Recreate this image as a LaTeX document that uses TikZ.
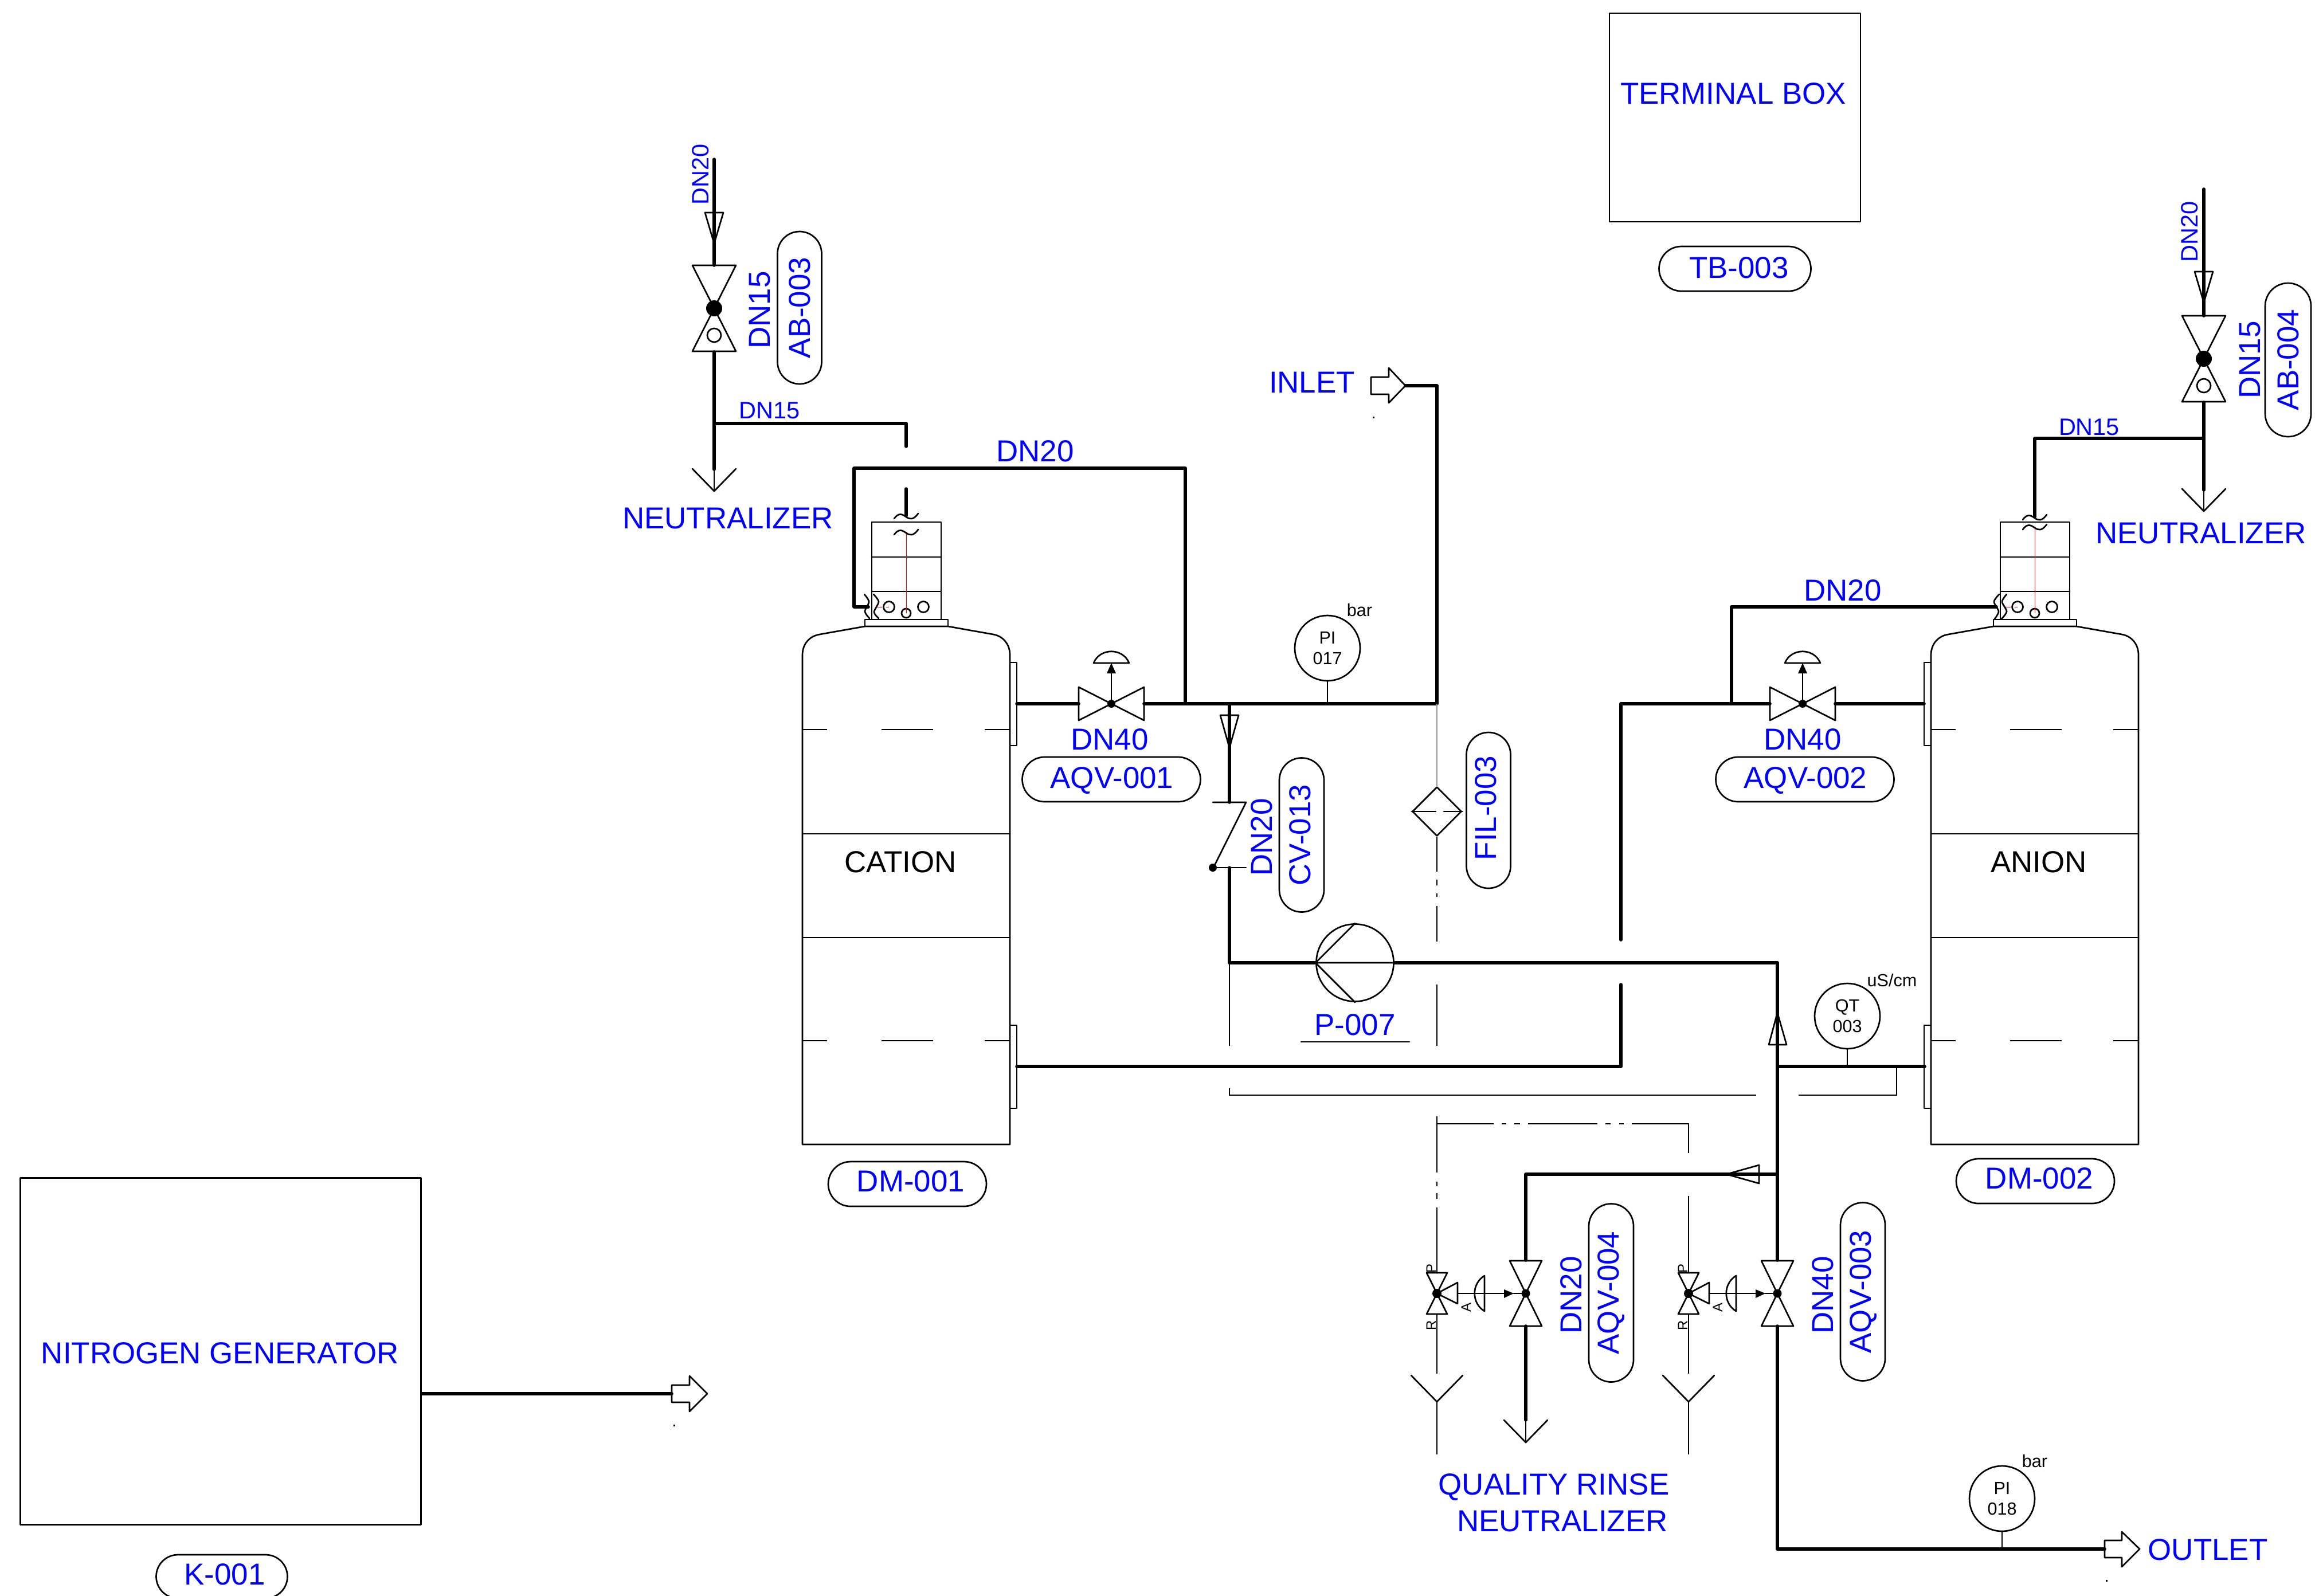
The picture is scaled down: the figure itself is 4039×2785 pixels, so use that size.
\documentclass[tikz,border=0pt]{standalone}
\usepackage{fontspec}
\setmainfont{Liberation Sans}
\usetikzlibrary{shapes.misc,shapes.geometric}
\definecolor{tagblue}{RGB}{0,0,255}
\newcommand\fbig{\fontsize{15.05pt}{17pt}\selectfont}
\newcommand\fsml{\fontsize{11.8pt}{13pt}\selectfont}
\newcommand\finst{\fontsize{8.7pt}{10.2pt}\selectfont}
\newcommand\ftiny{\fontsize{6.8pt}{8pt}\selectfont}
\tikzset{
  pipe/.style={line width=0.56mm,line cap=round,line join=round},
  symb/.style={line width=0.27mm,line cap=round,line join=round},
  thinl/.style={line width=0.18mm},
  faint/.style={line width=0.12mm,black!40},
  redl/.style={line width=0.1mm,red},
  tagt/.style={text=tagblue,font=\fbig,inner sep=0pt},
  tags/.style={text=tagblue,font=\fsml,inner sep=0pt},
  blackt/.style={text=black,font=\fbig,inner sep=0pt},
  unitt/.style={text=black,font=\finst,inner sep=0pt},
  pill/.style={draw,symb,rounded rectangle,inner sep=0pt,text=tagblue,font=\fbig},
  inst/.style={draw,symb,circle,minimum size=11.4mm,inner sep=0pt,align=center,font=\finst},
  box/.style={draw,symb,rectangle,inner sep=0pt}
}
% bow-tie valve, vertical: centre, half-height, half-width
\newcommand\bowV[4]{\draw[symb] ({#1-#4},{#2-#3}) -- ({#1+#4},{#2-#3}) -- ({#1-#4},{#2+#3}) -- ({#1+#4},{#2+#3}) -- cycle;}
\newcommand\bowH[4]{\draw[symb] ({#1-#3},{#2-#4}) -- ({#1-#3},{#2+#4}) -- ({#1+#3},{#2-#4}) -- ({#1+#3},{#2+#4}) -- cycle;}
% actuated horizontal-line valve with dome on top
\newcommand\aqvH[2]{%
  \bowH{#1}{#2}{57}{29}
  \fill ({#1},{#2}) circle[radius=7];
  \draw[symb] ({#1},{#2}) -- ({#1},{#2-53});
  \fill ({#1-8},{#2-53}) -- ({#1+8},{#2-53}) -- ({#1},{#2-71}) -- cycle;
  \draw[symb] ({#1-31},{#2-71}) .. controls ({#1-20},{#2-98}) and ({#1+20},{#2-98}) .. ({#1+31},{#2-71}) -- cycle;}
% vertical-line pneumatic valve group
\newcommand\aqvV[2]{%
  \bowV{#2}{2257}{57}{28}
  \fill ({#2},2257) circle[radius=7.5];
  \bowV{#1}{2257}{36}{18}
  \fill (#1,2257) circle[radius=8];
  \draw[symb] (#1,2257) -- ({#1+36},2238) -- ({#1+36},2275) -- cycle;
  \draw[symb] ({#1+36},2257) -- ({#1+117},2257);
  \fill ({#1+117},2250) -- ({#1+117},2265) -- ({#1+134},2257) -- cycle;
  \draw[symb] ({#1+134},2257) -- (#2,2257);
  \draw[symb] ({#1+83},2226) .. controls ({#1+60},2240) and ({#1+60},2274) .. ({#1+83},2288) -- cycle;
  \node[text=black,font=\ftiny,inner sep=0pt,rotate=90] at ({#1-10},2213) {P};
  \node[text=black,font=\ftiny,inner sep=0pt,rotate=90] at ({#1-10},2313) {R};
  \node[text=black,font=\ftiny,inner sep=0pt,rotate=90] at ({#1+51},2281) {A};
  \draw[symb] (#1,2190) -- (#1,2221);
  \draw[thinl] (#1,2293) -- (#1,2397);
  \draw[symb] ({#1-45},2400) -- (#1,2446) -- ({#1+45},2400);
  \draw[symb] (#1,2446) -- (#1,2537);}
% tank with top flange and positioner box
\newcommand\hsq[2]{\draw[symb] ({#1-21},{#2+5}) .. controls ({#1-13},{#2-6}) and ({#1-7},{#2-3}) .. ({#1},{#2+2}) .. controls ({#1+7},{#2+7}) and ({#1+13},{#2+7}) .. ({#1+21},{#2-4});}
\newcommand\tank[2]{%
  \begin{scope}[shift={(#1,0)}]
    \draw[symb] (0,1997) -- (0,1143) .. controls (0,1124) and (12,1110) .. (30,1107) -- (109,1093) -- (254,1093) -- (333,1107) .. controls (350,1110) and (362,1124) .. (362,1143) -- (362,1997) -- cycle;
    \draw[symb] (109,1081) rectangle (254,1093);
    \draw[symb] (121,911) rectangle (242,1081);
    \draw[symb] (121,972) -- (242,972) (121,1032) -- (242,1032);
    \draw[symb] (0,1455) -- (362,1455) (0,1636) -- (362,1636);
    \foreach \yy in {1273,1816} {\draw[thinl] (0,\yy) -- (43,\yy) (138,\yy) -- (228,\yy) (318,\yy) -- (362,\yy);}
    \draw[symb] (151,1059) circle[radius=9.5] (211,1059) circle[radius=9.5] (181,1070) circle[radius=8];
    \draw[redl] (181,#2) -- (181,1070);
  \end{scope}}
\begin{document}
\begin{tikzpicture}[x=0.1mm,y=-0.1mm]
\useasboundingbox (0,0) rectangle (4039,2785);

%% Tanks
\tank{1400}{928}
\tank{3369}{919}
\draw[symb] (1762,1156) rectangle (1774,1301) (1762,1789) rectangle (1774,1934);
\draw[symb] (3357,1156) rectangle (3369,1301) (3357,1789) rectangle (3369,1934);
\node[blackt] (cation) at (1571,1504) {CATION};
\node[blackt] (anion) at (3557,1504) {ANION};
\draw[redl,densely dashed] (1528,1059) -- (1551,1059);
\draw[redl,densely dashed] (3497,1059) -- (3520,1059);
\hsq{1581}{900}\hsq{1581}{928}
\hsq{3550}{902}\hsq{3550}{919}
\draw[symb] plot[smooth] coordinates {(1508,1037)(1516,1050)(1509,1067)(1517,1079)};
\draw[symb] plot[smooth] coordinates {(1524,1037)(1533,1050)(1525,1068)(1533,1079)};
\draw[symb] plot[smooth] coordinates {(3488,1037)(3479,1050)(3487,1067)(3480,1080)};
\draw[symb] plot[smooth] coordinates {(3501,1037)(3493,1050)(3501,1067)(3492,1080)};
\node[pill,minimum width=27.6mm,minimum height=7.8mm] (dm1) at (1583,2066) {};
\node[tagt] (dm1t) at (1589,2061) {DM-001};
\node[pill,minimum width=27.6mm,minimum height=7.8mm] (dm2) at (3551,2061) {};
\node[tagt] (dm2t) at (3558,2056) {DM-002};

%% Terminal box and nitrogen generator
\node[box,minimum width=43.8mm,minimum height=36.4mm] (tb) at (3027,205) {};
\node[tagt] (tbt) at (3024,163) {TERMINAL BOX};
\node[pill,minimum width=26.5mm,minimum height=7.8mm] (tb3) at (3027,469) {};
\node[tagt] (tb3t) at (3034,467) {TB-003};
\node[box,minimum width=69.9mm,minimum height=60.5mm] (k1) at (385,2358) {};
\node[tagt] (k1n) at (384,2361) {NITROGEN GENERATOR};
\node[pill,minimum width=22.9mm,minimum height=7.6mm] (k1t) at (387,2751) {};
\node[tagt] (k1l) at (392,2747) {K-001};
\coordinate (narrow) at (1172,2432);
\draw[pipe] (k1.east |- narrow) -- (narrow);
\draw[symb] (1172,2417) -- (1203,2417) -- (1203,2401) -- (1234,2432) -- (1203,2463) -- (1203,2447) -- (1172,2447) -- cycle;
\fill (1175,2486) rectangle (1178,2489);

%% AB-003 group
\coordinate (ab3top) at (1246,278);
\coordinate (ab3t) at (1246,463);
\coordinate (ab3b) at (1246,614);
\coordinate (ab3j) at (1246,739);
\coordinate (ab3e) at (1246,819);
\coordinate (ab3tip) at (1246,857);
\draw[pipe] (ab3top) -- (ab3t);
\draw[symb] (1230,371) -- (1262,371) -- (1246,425) -- cycle;
\bowV{1246}{538}{75}{38}
\fill (1246,538) circle[radius=14];
\draw[symb] (1246,585) circle[radius=12];
\draw[pipe] (ab3b) -- (ab3e);
\draw[symb] (ab3e) -- (ab3tip);
\draw[symb] (1208,818) -- (ab3tip) -- (1284,818);
\coordinate (stubU) at (1581,739);
\coordinate (stubE) at (1581,779);
\draw[pipe] (ab3j) -- (stubU) -- (stubE);
\coordinate (stubL) at (1581,853);
\coordinate (stubB) at (1581,900);
\draw[pipe] (stubL) -- (stubB);
\node[tags,rotate=90] (t1) at (1222,304) {DN20};
\node[tagt,rotate=90] (t2) at (1326,541) {DN15};
\node[pill,rotate=90,minimum width=26.6mm,minimum height=7.7mm] (ab3) at (1395,537) {AB-003};
\node[tags] (t3) at (1343,716) {DN15};
\node[tagt] (t4) at (1270,905) {NEUTRALIZER};

%% AB-004 group
\coordinate (ab4top) at (3845,330);
\coordinate (ab4t) at (3845,551);
\coordinate (ab4b) at (3845,702);
\coordinate (ab4j) at (3845,765);
\coordinate (ab4e) at (3845,855);
\coordinate (ab4tip) at (3845,892);
\draw[pipe] (ab4top) -- (ab4t);
\draw[symb] (3829,474) -- (3861,474) -- (3845,528) -- cycle;
\bowV{3845}{626}{75}{38}
\fill (3845,626) circle[radius=14];
\draw[symb] (3845,673) circle[radius=12];
\draw[pipe] (ab4b) -- (ab4e);
\draw[symb] (ab4e) -- (ab4tip);
\draw[symb] (3807,853) -- (ab4tip) -- (3883,853);
\coordinate (stubR) at (3550,765);
\coordinate (stubS) at (3550,902);
\draw[pipe] (ab4j) -- (stubR) -- (stubS);
\node[tags,rotate=90] (t5) at (3820,404) {DN20};
\node[tagt,rotate=90] (t6) at (3926,628) {DN15};
\node[pill,rotate=90,minimum width=26.8mm,minimum height=8mm] (ab4) at (3992,628) {AB-004};
\node[tags] (t7) at (3645,745) {DN15};
\node[tagt] (t8) at (3840,931) {NEUTRALIZER};

%% Main line, cation side
\coordinate (noz1) at (1774,1228);
\coordinate (aqv1l) at (1882,1228);
\coordinate (aqv1r) at (1996,1228);
\coordinate (j2068) at (2068,1228);
\coordinate (jcv) at (2145,1228);
\coordinate (j2507) at (2507,1228);
\coordinate (in1) at (2507,673);
\coordinate (in2) at (2452,673);
\draw[pipe] (noz1) -- (aqv1l);
\aqvH{1939}{1228}
\draw[pipe] (aqv1r) -- (j2507) -- (in1) -- (in2);
\draw[symb] (2392,658) -- (2423,658) -- (2423,642) -- (in2) -- (2423,703) -- (2423,688) -- (2392,688) -- cycle;
\fill (2395,727) rectangle (2398,730);
\node[tagt] (inlet) at (2289,667) {INLET};
\coordinate (dn20a) at (2068,817);
\coordinate (dn20b) at (1490,817);
\coordinate (dn20c) at (1490,1059);
\coordinate (dn20d) at (1515,1059);
\draw[pipe] (j2068) -- (dn20a) -- (dn20b) -- (dn20c) -- (dn20d);
\node[tagt] (t9) at (1806,787) {DN20};
\node[tagt] (t10) at (1936,1290) {DN40};
\node[pill,minimum width=31.1mm,minimum height=7.8mm] (aqv1) at (1939,1360) {};
\node[tagt] (aqv1t) at (1940,1362) {AQV-001};
\node[inst] (pi17) at (2316,1131) {PI\\017};
\draw[symb] (pi17.south) -- (pi17.south |- j2507);
\node[unitt] (u1) at (2372,1065) {bar};

%% Check valve and pump
\coordinate (cv1) at (2145,1400);
\coordinate (cv2) at (2145,1514);
\coordinate (cv3) at (2145,1680);
\draw[pipe] (jcv) -- (cv1);
\draw[symb] (2129,1248) -- (2161,1248) -- (2145,1305) -- cycle;
\draw[symb] (2116,1400) -- (2174,1400) -- (2117,1514);
\draw[symb] (2116,1514) -- (2174,1514);
\fill (2116,1514) circle[radius=7];
\draw[pipe] (cv2) -- (cv3);
\node[tagt,rotate=90] (t11) at (2201,1461) {DN20};
\node[pill,rotate=90,minimum width=26.9mm,minimum height=7.8mm] (cv13) at (2271,1457) {};
\node[tagt,rotate=90] (cv13t) at (2268,1457) {CV-013};
\node[draw,symb,circle,minimum size=13.5mm,inner sep=0pt] (pump) at (2364,1680) {};
\coordinate (eq1) at (3101,1680);
\draw[pipe] (cv3) -- (pump.west);
\draw[pipe] (pump.east) -- (eq1);
\draw[symb] (pump.north) -- (pump.west) -- (pump.south) (pump.west) -- (pump.east);
\node[tagt] (p7) at (2364,1788) {P-007};
\draw[symb] (2270,1818) -- (2459,1818);

%% Filter
\node[draw,symb,diamond,minimum size=8.6mm,inner sep=0pt,aspect=1] (fil) at (2507,1416) {};
\draw[symb,dash pattern=on 12 off 4] (fil.west) -- (fil.east);
\node[pill,rotate=90,minimum width=27.2mm,minimum height=7.7mm] (fil3) at (2597,1414) {};
\node[tagt,rotate=90] (fil3t) at (2592,1410) {FIL-003};
\draw[faint] (j2507) -- (fil.north);
\draw[thinl] (fil.south) -- (2507,1521) (2507,1535) -- (2507,1545) (2507,1559) -- (2507,1565) (2507,1581) -- (2507,1643) (2507,1718) -- (2507,1825);
\draw[thinl] (cv3) -- (2145,1825);
\draw[thinl] (2145,1899) -- (2145,1911) -- (3064,1911);
\draw[thinl] (3138,1911) -- (3309,1911) -- (3309,1861);

%% Anion side lines
\coordinate (lo1) at (1774,1861);
\coordinate (lo2) at (2828,1861);
\coordinate (lo3) at (2828,1718);
\draw[pipe] (lo1) -- (lo2) -- (lo3);
\coordinate (up1) at (2828,1640);
\coordinate (up2) at (2828,1228);
\coordinate (aqv2l) at (3088,1228);
\coordinate (aqv2r) at (3202,1228);
\coordinate (noz2) at (3357,1228);
\draw[pipe] (up1) -- (up2) -- (aqv2l);
\aqvH{3145}{1228}
\draw[pipe] (aqv2r) -- (noz2);
\coordinate (br1) at (3021,1228);
\coordinate (br2) at (3021,1059);
\coordinate (br3) at (3483,1059);
\draw[pipe] (br1) -- (br2) -- (br3);
\node[tagt] (t12) at (3215,1030) {DN20};
\node[tagt] (t13) at (3145,1290) {DN40};
\node[pill,minimum width=31.1mm,minimum height=7.8mm] (aqv2) at (3149,1360) {};
\node[tagt] (aqv2t) at (3150,1362) {AQV-002};
\coordinate (j3101) at (3101,1861);
\coordinate (noz3) at (3358,1861);
\draw[pipe] (j3101) -- (noz3);
\node[inst] (qt3) at (3223,1773) {QT\\003};
\draw[symb] (qt3.south) -- (qt3.south |- noz3);
\node[unitt] (u2) at (3301,1711) {uS/cm};

%% Vertical outlet line and valves
\coordinate (o1) at (3101,2199);
\coordinate (o2) at (3101,2314);
\coordinate (o3) at (3101,2703);
\coordinate (o4) at (3672,2703);
\draw[pipe] (eq1) -- (o1);
\draw[symb] (3086,1823) -- (3117,1823) -- (3101,1767) -- cycle;
\draw[pipe] (o2) -- (o3) -- (o4);
\draw[symb] (3672,2688) -- (3702,2688) -- (3702,2673) -- (3733,2703) -- (3702,2734) -- (3702,2718) -- (3672,2718) -- cycle;
\fill (3674,2757) rectangle (3677,2760);
\node[tagt] (outlet) at (3852,2704) {OUTLET};
\node[inst] (pi18) at (3493,2615) {PI\\018};
\draw[symb] (pi18.south) -- (pi18.south |- o4);
\node[unitt] (u3) at (3550,2550) {bar};

\coordinate (r1) at (3101,2049);
\coordinate (r2) at (2662,2049);
\coordinate (r3) at (2662,2199);
\coordinate (r4) at (2662,2314);
\coordinate (r5) at (2662,2478);
\coordinate (r6) at (2662,2517);
\draw[pipe] (r1) -- (r2) -- (r3);
\draw[symb] (3069,2033) -- (3069,2065) -- (3012,2049) -- cycle;
\draw[pipe] (r4) -- (r5);
\draw[symb] (r5) -- (r6);
\draw[symb] (2624,2478) -- (r6) -- (2700,2478);
\aqvV{2507}{2662}
\aqvV{2946}{3101}

%% Pneumatic dash-dot lines
\draw[thinl] (2507,1948) -- (2507,2046) (2507,2062) -- (2507,2070) (2507,2082) -- (2507,2092) (2507,2107) -- (2507,2190);
\draw[thinl] (2507,1961) -- (2606,1961) (2620,1961) -- (2628,1961) (2642,1961) -- (2652,1961) (2666,1961) -- (2787,1961) (2801,1961) -- (2810,1961) (2825,1961) -- (2833,1961) (2847,1961) -- (2946,1961) -- (2946,2012);
\draw[thinl] (2946,2087) -- (2946,2190);

%% Valve group labels
\node[tagt,rotate=90] (t14) at (2741,2260) {DN20};
\node[pill,rotate=90,minimum width=31.1mm,minimum height=7.8mm] (aqv4) at (2811,2256) {};
\node[tagt,rotate=90] (aqv4t) at (2811,2256) {AQV-004};
\node[tagt,rotate=90] (t15) at (3180,2260) {DN40};
\node[pill,rotate=90,minimum width=31.1mm,minimum height=7.8mm] (aqv3) at (3250,2254) {};
\node[tagt,rotate=90] (aqv3t) at (3251,2254) {AQV-003};
\node[tagt] (t16) at (2711,2595) {QUALITY RINSE};
\node[tagt] (t17) at (2726,2655) {NEUTRALIZER};
\end{tikzpicture}
\end{document}
